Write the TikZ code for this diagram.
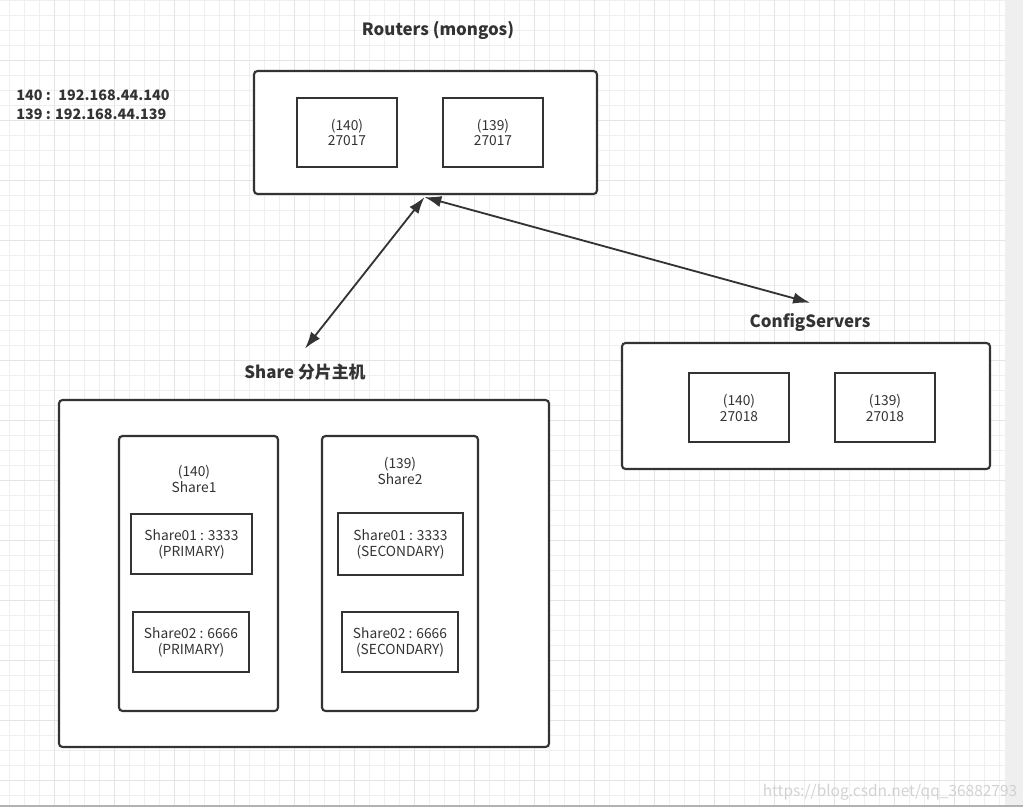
\documentclass[tikz,border=0pt]{standalone}
\usepackage{fontspec}
\setmainfont{Noto Sans CJK SC}
\usetikzlibrary{arrows.meta,calc}
\definecolor{ink}{HTML}{333333}
\definecolor{gridc}{HTML}{EFEFEF}
\definecolor{gridm}{HTML}{E4E4E4}
\newcommand{\pxu}{0.025cm}

\begin{document}
\begin{tikzpicture}[x=0.025cm,y=-0.025cm,
    outer/.style 2 args={draw=ink,line width=1.5pt,rounded corners=2.5pt,fill=white,
      minimum width=#1*\pxu,minimum height=#2*\pxu,inner sep=0pt},
    inbox/.style 2 args={draw=ink,line width=1.5pt,fill=white,align=center,text=ink,
      font=\fontsize{9.8}{11.3}\selectfont,
      minimum width=#1*\pxu,minimum height=#2*\pxu,inner sep=0pt},
    title/.style={text=ink,font=\fontsize{12}{13.5}\selectfont\bfseries,inner sep=0pt},
    note/.style={text=ink,font=\fontsize{9.8}{11.3}\selectfont,align=center,inner sep=0pt},
    link/.style={draw=ink,line width=1.3pt,{Latex[length=12pt,width=8pt]}-{Latex[length=12pt,width=8pt]}}]
  \useasboundingbox (0,0) rectangle (1023,811);
  % background grid
  \fill[white] (0,0) rectangle (1023,811);
  \foreach \gx in {9.5,24.5,...,1005}
    \draw[gridc,line width=0.6pt] (\gx,0) -- (\gx,806);
  \foreach \gy in {0,15,...,806}
    \draw[gridc,line width=0.6pt] (0,\gy) -- (1005,\gy);
  \foreach \gx in {54.5,114.5,...,1005}
    \draw[gridm,line width=0.6pt] (\gx,0) -- (\gx,806);
  \foreach \gy in {60,120,...,806}
    \draw[gridm,line width=0.6pt] (0,\gy) -- (1005,\gy);
  \fill[gridc] (1005,0) rectangle (1023,806);
  \draw[gray!60,line width=1pt] (0,806) -- (1023,806);
  \node[text=gray!35,font=\fontsize{11}{13}\selectfont,inner sep=0pt] (mark) at (890,792) {https://blog.csdn.net/qq\_36882793};

  % ip list
  \node[title,anchor=west,align=left,font=\fontsize{10.2}{13.5}\selectfont\bfseries] (iplist) at (16,104.5) {140 : \ 192.168.44.140\\139 : 192.168.44.139};

  % routers
  \node[title] (rtitle) at (438,30) {Routers (mongos)};
  \node[outer={343}{123}] (routers) at (425.5,132.5) {};
  \node[inbox={100}{69}] (r140) at (347,132.5) {(140)\\27017};
  \node[inbox={100}{69}] (r139) at (493,132.5) {(139)\\27017};

  % config servers
  \node[title] (ctitle) at (810,322) {ConfigServers};
  \node[outer={368}{126}] (config) at (806,406) {};
  \node[inbox={100}{69}] (c140) at (739,407.5) {(140)\\27018};
  \node[inbox={100}{69}] (c139) at (885,407.5) {(139)\\27018};

  % shards
  \node[title] (stitle) at (305,372) {Share 分片主机};
  \node[outer={490}{347}] (shares) at (304,573.5) {};
  \node[outer={159}{275}] (share1) at (198.5,573.5) {};
  \node[outer={156}{275}] (share2) at (400,573.5) {};
  \node[note] (s1name) at (194,479) {(140)\\Share1};
  \node[note] (s2name) at (400,471) {(139)\\Share2};
  \node[inbox={121}{60}] (s1a) at (191.5,544) {Share01 : 3333\\(PRIMARY)};
  \node[inbox={116}{60}] (s1b) at (191,642) {Share02 : 6666\\(PRIMARY)};
  \node[inbox={125}{62}] (s2a) at (400.5,544) {Share01 : 3333\\(SECONDARY)};
  \node[inbox={116}{60}] (s2b) at (400,642) {Share02 : 6666\\(SECONDARY)};

  % links
  \coordinate (rfoot) at ($(routers.south)+(-1,2)$);
  \coordinate (sfoot) at ($(stitle.north)+(0,-15)$);
  \coordinate (cfoot) at ($(ctitle.north)+(0,-10)$);
  \draw[link] (rfoot) -- (sfoot);
  \draw[link] (rfoot) -- (cfoot);
\end{tikzpicture}
\end{document}
